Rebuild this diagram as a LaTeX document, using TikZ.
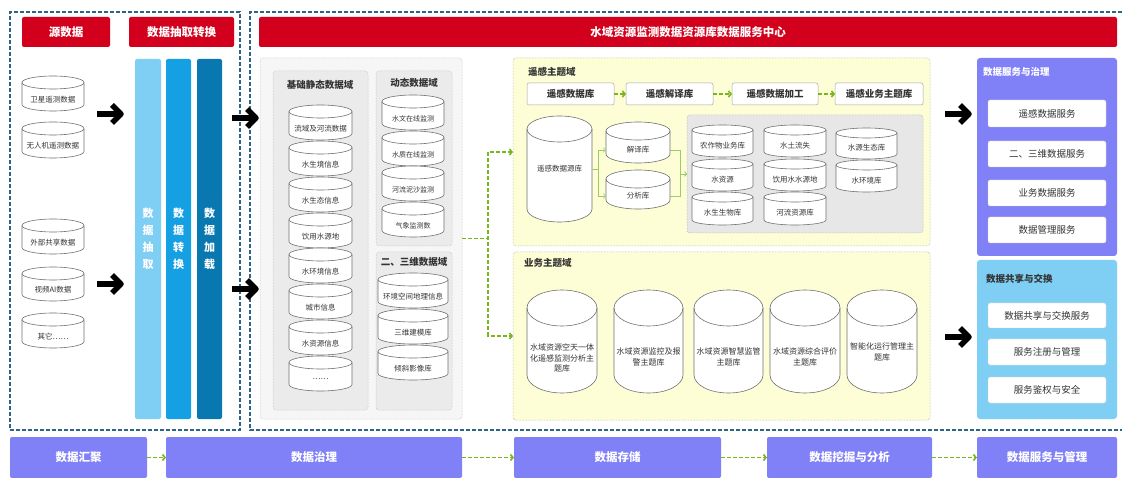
\documentclass[tikz,border=0pt]{standalone}
\usepackage{fontspec}
\setmainfont{Noto Sans CJK SC}
\usetikzlibrary{arrows.meta,calc}
\definecolor{hdrred}{HTML}{D2001C}
\definecolor{dashblue}{HTML}{2B6487}
\definecolor{barA}{HTML}{7FCEF4}
\definecolor{barB}{HTML}{14A0E2}
\definecolor{barC}{HTML}{0A78B0}
\definecolor{purp}{HTML}{8080F7}
\definecolor{ltblue}{HTML}{7FCFF5}
\definecolor{ylw}{HTML}{FDFDD6}
\definecolor{grn}{HTML}{7AB51D}
\definecolor{lgrn}{HTML}{9CCC65}
\definecolor{cylstroke}{HTML}{707070}
\definecolor{txt}{HTML}{333333}
\definecolor{gOut}{HTML}{F6F6F6}
\definecolor{gDom}{HTML}{EBEBEB}
\definecolor{gIn}{HTML}{E7E7E7}
\tikzset{
  x=1pt,y=1pt,
  redhdr/.style={fill=hdrred, rounded corners=2pt, text=white, font=\fontsize{11.5}{13}\selectfont\bfseries},
  barbox/.style={rounded corners=2pt, text=white, font=\fontsize{11}{17}\selectfont\bfseries, align=center},
  dashbox/.style={draw=dashblue, line width=1.1pt, dash pattern=on 4pt off 2pt},
  dotbox/.style={draw=black!30, densely dotted, line width=0.5pt, rounded corners=3pt},
  dtitle/.style={text=txt, font=\fontsize{9.5}{11}\selectfont\bfseries, inner sep=0pt},
  wbox/.style={fill=white, draw=black!35, line width=0.5pt, rounded corners=2pt, text=txt, font=\fontsize{9.5}{11}\selectfont\bfseries},
  sbox/.style={fill=white, draw=black!20, line width=0.4pt, rounded corners=2pt, text=txt, font=\fontsize{9.5}{11}\selectfont},
  fbox/.style={fill=purp, rounded corners=2pt, text=white, font=\fontsize{11.5}{13}\selectfont\bfseries},
  cylbody/.style={draw=cylstroke, fill=white, line width=0.6pt},
  cylline/.style={draw=cylstroke, line width=0.6pt},
  cyltext/.style={inner sep=0pt, text=txt, font=\fontsize{7.5}{10.5}\selectfont, align=center},
  bigtext/.style={font=\fontsize{8}{10.8}\selectfont},
  gdash/.style={draw=grn, line width=1.6pt, dash pattern=on 4pt off 2pt, -{Straight Barb[length=2.5pt,width=6pt]}},
  gthin/.style={draw=lgrn, line width=0.6pt, -{Straight Barb[length=2pt,width=4.5pt]}},
  blackarr/.style={draw=black, line width=5.5pt, line join=round},
}
% box node from pixel corners
\newcommand\pbox[7]{%
  \pgfmathsetmacro\bxW{(#5)-(#3)}%
  \pgfmathsetmacro\bxH{(#6)-(#4)}%
  \node[#2, minimum width=\bxW pt, minimum height=\bxH pt, inner sep=0pt, outer sep=0pt] (#1) at ({((#3)+(#5))/2},{-((#4)+(#6))/2}) {#7};%
}
% cylinder: name, x1, ytop, x2, ybottom, ry, label y, options, text
\newcommand\mycyl[9]{%
  \pgfmathsetmacro\cyRx{((#4)-(#2))/2}%
  \pgfmathsetmacro\cyTa{-(#3)-(#6)}%
  \pgfmathsetmacro\cyBa{-(#5)+(#6)}%
  \pgfmathsetmacro\cyW{(#4)-(#2)}%
  \path[cylbody] (#2,\cyTa) -- (#2,\cyBa) arc[start angle=180,end angle=360,x radius=\cyRx,y radius=#6] -- (#4,\cyTa) arc[start angle=0,end angle=180,x radius=\cyRx,y radius=#6] -- cycle;%
  \draw[cylline] (#2,\cyTa) arc[start angle=180,end angle=360,x radius=\cyRx,y radius=#6];%
  \node[cyltext,minimum width=\cyW pt,#8] (#1) at ({((#2)+(#4))/2},-#7) {#9};%
}
% heavy black arrow: name, x, y, length
\newcommand\bigarrow[4]{%
  \coordinate (#1s) at (#2,-#3);%
  \coordinate (#1e) at ({(#2)+(#4)-2},-#3);%
  \draw[blackarr] (#1s) -- ($(#1e)+(-4,0)$);%
  \draw[blackarr] ($(#1e)+(-9,9)$) -- (#1e) -- ($(#1e)+(-9,-9)$);%
}
\begin{document}
\begin{tikzpicture}
\useasboundingbox (0,0) rectangle (1122,-478);
\fill[white] (0,0) rectangle (1122,-478);

% dashed frames
\pbox{leftFrame}{dashbox}{10}{12}{240}{430}{}
\draw[dashbox] (1122,-12) -- (250,-12) -- (250,-430) -- (1122,-430);

% red headers
\pbox{hSrc}{redhdr}{22}{17}{110}{47}{源数据}
\pbox{hEtl}{redhdr}{129}{17}{234}{47}{数据抽取转换}
\pbox{hCenter}{redhdr}{259}{17}{1117}{47}{水域资源监测数据资源库数据服务中心}

% ETL bars
\pbox{barExt}{barbox,fill=barA}{135}{59}{161}{419}{数\\据\\抽\\取}
\pbox{barTrf}{barbox,fill=barB}{166}{59}{191}{419}{数\\据\\转\\换}
\pbox{barLoad}{barbox,fill=barC}{197}{59}{222}{419}{数\\据\\加\\载}

% source cylinders
\mycyl{s1}{22}{76}{84}{111}{6.5}{100}{}{卫星遥测数据}
\mycyl{s2}{22}{122}{84}{158}{6.5}{146}{}{无人机遥测数据}
\mycyl{s3}{22}{219}{84}{254}{6.5}{243}{}{外部共享数据}
\mycyl{s4}{22}{267}{84}{301}{6.5}{290}{}{视频AI数据}
\mycyl{s5}{22}{313}{84}{348}{6.5}{337}{}{其它……}

% black arrows
\bigarrow{aA}{97}{114}{26}
\bigarrow{aB}{97}{284}{26}
\bigarrow{aC}{232}{118}{26}
\bigarrow{aD}{232}{289}{26}
\bigarrow{aE}{945}{114}{26}
\bigarrow{aF}{945}{337}{26}

% governance area
\pbox{gOuter}{dotbox,fill=gOut}{260}{58}{462}{419}{}
\pbox{dStatic}{dotbox,fill=gDom}{273}{71}{368}{410}{}
\pbox{dDyn}{dotbox,fill=gDom}{376}{71}{452}{246}{}
\pbox{d3D}{dotbox,fill=gDom}{376}{252}{452}{410}{}
\node[dtitle] (tStatic) at (320,-85) {基础静态数据域};
\node[dtitle] (tDyn) at (414,-83) {动态数据域};
\node[dtitle] (t3D) at (414,-262) {二、三维数据域};

\mycyl{st1}{289}{105}{352}{140}{6.5}{129}{}{流域及河流数据}
\mycyl{st2}{289}{141}{352}{176}{6.5}{165}{}{水生境信息}
\mycyl{st3}{289}{177}{352}{212}{6.5}{201}{}{水生态信息}
\mycyl{st4}{289}{213}{352}{248}{6.5}{237}{}{饮用水源地}
\mycyl{st5}{289}{248}{352}{283}{6.5}{272}{}{水环境信息}
\mycyl{st6}{289}{284}{352}{319}{6.5}{308}{}{城市信息}
\mycyl{st7}{289}{320}{352}{355}{6.5}{344}{}{水资源信息}
\mycyl{st8}{289}{356}{352}{391}{6.5}{379}{}{……}

\mycyl{dy1}{382}{95}{444}{130}{6.5}{119}{font=\fontsize{7}{9}\selectfont}{水文在线监测}
\mycyl{dy2}{382}{131}{444}{166}{6.5}{155}{font=\fontsize{7}{9}\selectfont}{水质在线监测}
\mycyl{dy3}{382}{166}{444}{201}{6.5}{190}{font=\fontsize{7}{9}\selectfont}{河流泥沙监测}
\mycyl{dy4}{382}{202}{444}{237}{6.5}{226}{font=\fontsize{7}{9}\selectfont}{气象监测数}

\mycyl{td1}{378}{273}{448}{308}{6.5}{297}{}{环境空间地理信息}
\mycyl{td2}{378}{309}{448}{344}{6.5}{333}{}{三维建模库}
\mycyl{td3}{378}{345}{448}{380}{6.5}{369}{}{倾斜影像库}

% remote sensing domain
\pbox{rsDom}{dotbox,fill=ylw,draw=black!35}{513}{58}{930}{246}{}
\node[dtitle,anchor=west] (tRs) at (528,-72) {遥感主题域};
\pbox{r1}{wbox}{527}{83}{614}{105}{遥感数据库}
\pbox{r2}{wbox}{626}{83}{713}{105}{遥感解译库}
\pbox{r3}{wbox}{732}{83}{818}{105}{遥感数据加工}
\pbox{r4}{wbox}{835}{83}{923}{105}{遥感业务主题库}
\draw[gdash] (r1.east) -- (r2.west);
\draw[gdash] (r2.east) -- (r3.west);
\draw[gdash] (r3.east) -- (r4.west);

\mycyl{rsrc}{527}{116}{592}{222}{13}{169}{}{遥感数据源库}
\mycyl{jy}{606}{122}{670}{163}{9}{150}{}{解译库}
\mycyl{fx}{606}{170}{670}{209}{9}{196}{}{分析库}

\pbox{gInner}{dotbox,fill=gIn,draw=black!35}{687}{115}{923}{233}{}
\mycyl{c11}{692}{125}{753}{157}{5}{146}{}{农作物业务库}
\mycyl{c12}{692}{159}{753}{191}{5}{180}{}{水资源}
\mycyl{c13}{692}{192}{753}{225}{5}{213}{}{水生生物库}
\mycyl{c21}{764}{125}{826}{157}{5}{146}{}{水土流失}
\mycyl{c22}{764}{159}{826}{191}{5}{180}{}{饮用水水源地}
\mycyl{c23}{764}{192}{826}{225}{5}{213}{}{河流资源库}
\mycyl{c31}{836}{128}{897}{159}{5}{148}{}{水源生态库}
\mycyl{c32}{836}{160}{897}{192}{5}{181}{}{水环境库}

\draw[gthin] (rsrc.east) -- ++(6,0) |- (jy.west);
\draw[gthin] (rsrc.east) -- ++(6,0) |- (fx.west);
\draw[gthin] (jy.east) -- ++(10,0) |- (gInner.west);
\draw[gthin] (fx.east) -- ++(10,0) |- (gInner.west);

% business domain
\pbox{bizDom}{dotbox,fill=ylw,draw=black!35}{513}{252}{930}{420}{}
\node[dtitle,anchor=west] (tBiz) at (524,-263) {业务主题域};
\mycyl{b1}{527}{290}{597}{393}{18}{358}{bigtext}{水域资源空天一体\\化遥感监测分析主\\题库}
\mycyl{b2}{614}{290}{683}{393}{18}{357}{bigtext}{水域资源监控及报\\警主题库}
\mycyl{b3}{694}{290}{763}{393}{18}{357}{bigtext}{水域资源智慧监管\\主题库}
\mycyl{b4}{770}{290}{840}{393}{18}{357}{bigtext}{水域资源综合评价\\主题库}
\mycyl{b5}{847}{290}{917}{393}{18}{352}{bigtext}{智能化运行管理主\\题库}

\draw[gdash] (gOuter.east) -- ++(26,0) |- (rsDom.west);
\draw[gdash] (gOuter.east) -- ++(26,0) |- (bizDom.west);

% services
\pbox{svc}{fill=purp,rounded corners=3pt}{977}{58}{1117}{256}{}
\node[dtitle,text=white,anchor=west] (tSvc) at (983,-72) {数据服务与治理};
\pbox{v1}{sbox}{988}{100}{1106}{127}{遥感数据服务}
\pbox{v2}{sbox}{988}{141}{1106}{167}{二、三维数据服务}
\pbox{v3}{sbox}{988}{180}{1106}{206}{业务数据服务}
\pbox{v4}{sbox}{988}{217}{1106}{243}{数据管理服务}

\pbox{shr}{fill=ltblue,rounded corners=3pt}{977}{260}{1117}{419}{}
\node[dtitle,anchor=west] (tShr) at (986,-279) {数据共享与交换};
\pbox{x1}{sbox}{988}{303}{1106}{328}{数据共享与交换服务}
\pbox{x2}{sbox}{988}{339}{1106}{365}{服务注册与管理}
\pbox{x3}{sbox}{988}{377}{1106}{403}{服务鉴权与安全}

% bottom flow
\pbox{f1}{fbox}{10}{437}{147}{478}{数据汇聚}
\pbox{f2}{fbox}{166}{437}{462}{478}{数据治理}
\pbox{f3}{fbox}{514}{437}{721}{478}{数据存储}
\pbox{f4}{fbox}{767}{437}{932}{478}{数据挖掘与分析}
\pbox{f5}{fbox}{977}{437}{1117}{478}{数据服务与管理}
\draw[gdash] (f1.east) -- (f2.west);
\draw[gdash] (f2.east) -- (f3.west);
\draw[gdash] (f3.east) -- (f4.west);
\draw[gdash] (f4.east) -- (f5.west);
\end{tikzpicture}
\end{document}
